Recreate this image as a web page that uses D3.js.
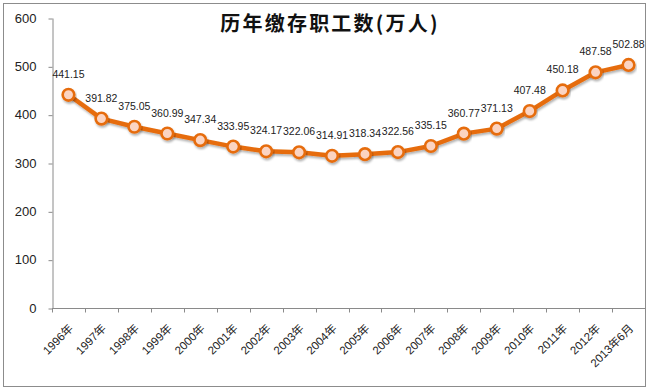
<!DOCTYPE html>
<html>
<head>
<meta charset="utf-8">
<script src="https://cdn.jsdelivr.net/npm/d3@7"></script>
<style>
  html, body { margin: 0; padding: 0; background: #fff; }
  svg { display: block; }
</style>
</head>
<body>
<svg id="chart" width="650" height="390"></svg>
<script>
const title = "历年缴存职工数(万人)";
const categories = ["1996年","1997年","1998年","1999年","2000年","2001年","2002年","2003年","2004年","2005年","2006年","2007年","2008年","2009年","2010年","2011年","2012年","2013年6月"];
const values = [441.15,391.82,375.05,360.99,347.34,333.95,324.17,322.06,314.91,318.34,322.56,335.15,360.77,371.13,407.48,450.18,487.58,502.88];
const yTicks = [0,100,200,300,400,500,600];

const svg = d3.select("#chart");
const lineColor = "#E66C0C";
const markerFill = "#FBD4C2";
const axisColor = "#8a8a8a";

// outer frame
svg.append("rect").attr("x",3.5).attr("y",3.5).attr("width",642).attr("height",383)
  .attr("fill","#fff").attr("stroke","#8c8c8c").attr("stroke-width",1);

const defs = svg.append("defs");
const f = defs.append("filter").attr("id","sh").attr("x","-20%").attr("y","-20%").attr("width","140%").attr("height","160%");
f.append("feDropShadow").attr("dx",1).attr("dy",2).attr("stdDeviation",1.2)
  .attr("flood-color","#000").attr("flood-opacity",0.3);

const x = d3.scaleBand().domain(categories).range([52, 645]).paddingInner(0).paddingOuter(0);
const y = d3.scaleLinear().domain([0,600]).range([308,18]);
const cx = d => x(d) + x.bandwidth()/2;

// y axis
const yAxis = svg.append("g").attr("transform","translate(52.5,0)")
  .call(d3.axisLeft(y).tickValues(yTicks).tickSize(4).tickPadding(12).tickSizeOuter(0));
yAxis.select(".domain").attr("stroke",axisColor);
yAxis.selectAll(".tick line").attr("stroke",axisColor).attr("transform","translate(0,0.5)");
yAxis.selectAll(".tick text").attr("font-family","'Liberation Sans', Arial, sans-serif")
  .attr("font-size",13).attr("fill","#222");

// x axis
const xg = svg.append("g");
xg.append("line").attr("x1",52).attr("x2",645).attr("y1",308.5).attr("y2",308.5).attr("stroke",axisColor);
const bounds = categories.map(c => x(c)).concat([x(categories[categories.length-1]) + x.bandwidth()]);
xg.selectAll("line.tk").data(bounds).join("line").attr("class","tk")
  .attr("x1",d=>Math.round(d)+0.5).attr("x2",d=>Math.round(d)+0.5).attr("y1",308.5).attr("y2",312.5)
  .attr("stroke",axisColor);
xg.selectAll("text.xl").data(categories).join("text").attr("class","xl")
  .attr("transform", d => `translate(${cx(d)+5.5},329) rotate(-45)`)
  .attr("text-anchor","end")
  .attr("font-family","'Liberation Sans', 'Noto Sans CJK SC', sans-serif")
  .attr("font-size",11.5).attr("fill","#222")
  .text(d => d);

// title
svg.append("text").attr("x",330).attr("y",31).attr("text-anchor","middle")
  .attr("font-family","'Noto Sans CJK SC', sans-serif").attr("font-weight","bold")
  .attr("font-size",20).attr("letter-spacing",2.2).attr("fill","#111")
  .text(title);

// line
const data = categories.map((c,i) => ({c, v: values[i]}));
const line = d3.line().x(d => cx(d.c)).y(d => y(d.v));
svg.append("path").datum(data).attr("d",line).attr("fill","none")
  .attr("stroke",lineColor).attr("stroke-width",4.5).attr("stroke-linejoin","round")
  .attr("filter","url(#sh)");

svg.selectAll("circle.pt").data(data).join("circle").attr("class","pt")
  .attr("cx",d=>cx(d.c)).attr("cy",d=>y(d.v)).attr("r",5.8)
  .attr("fill",markerFill).attr("stroke",lineColor).attr("stroke-width",2.6)
  .attr("filter","url(#sh)");

svg.selectAll("text.lbl").data(data).join("text").attr("class","lbl")
  .attr("x",d=>cx(d.c)).attr("y",d=>y(d.v)-17).attr("text-anchor","middle")
  .attr("font-family","'Liberation Sans', Arial, sans-serif").attr("font-size",10.5)
  .attr("fill","#222")
  .text(d => d.v.toFixed(2));
</script>
</body>
</html>
